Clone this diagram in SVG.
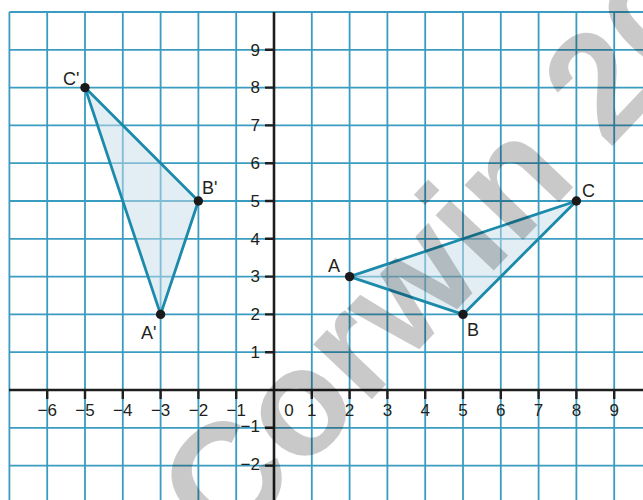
<svg xmlns="http://www.w3.org/2000/svg" width="643" height="500" viewBox="0 0 643 500">
<style>
.grid line{stroke:#3a9cc0;stroke-width:1.8}
.axis{stroke:#1e1e1e;stroke-width:2.6}
.tick{stroke:#1e1e1e;stroke-width:2.4}
.num{font-family:"Liberation Sans",Arial,sans-serif;font-size:17px;fill:#231f20}
.xl{text-anchor:middle}
.yl{text-anchor:end}
.pt{font-family:"Liberation Sans",Arial,sans-serif;font-size:18px;fill:#231f20}
.tri{fill:#c6dde9;fill-opacity:0.5;stroke:#1b8aab;stroke-width:2.8;stroke-linejoin:round}
.dot{fill:#1a1a1a}
.wm{font-family:"Liberation Sans",Arial,sans-serif;font-weight:bold;font-size:152px;fill:#000;fill-opacity:0.21}
</style>
<rect width="643" height="500" fill="#fff"/>
<g id="grid" class="grid">
<line x1="9.4" y1="12" x2="9.4" y2="500"/>
<line x1="47.2" y1="12" x2="47.2" y2="500"/>
<line x1="85" y1="12" x2="85" y2="500"/>
<line x1="122.8" y1="12" x2="122.8" y2="500"/>
<line x1="160.6" y1="12" x2="160.6" y2="500"/>
<line x1="198.4" y1="12" x2="198.4" y2="500"/>
<line x1="236.2" y1="12" x2="236.2" y2="500"/>
<line x1="311.8" y1="12" x2="311.8" y2="500"/>
<line x1="349.6" y1="12" x2="349.6" y2="500"/>
<line x1="387.4" y1="12" x2="387.4" y2="500"/>
<line x1="425.2" y1="12" x2="425.2" y2="500"/>
<line x1="463" y1="12" x2="463" y2="500"/>
<line x1="500.8" y1="12" x2="500.8" y2="500"/>
<line x1="538.6" y1="12" x2="538.6" y2="500"/>
<line x1="576.4" y1="12" x2="576.4" y2="500"/>
<line x1="614.2" y1="12" x2="614.2" y2="500"/>
<line x1="9.4" y1="12" x2="643" y2="12"/>
<line x1="9.4" y1="49.8" x2="643" y2="49.8"/>
<line x1="9.4" y1="87.6" x2="643" y2="87.6"/>
<line x1="9.4" y1="125.4" x2="643" y2="125.4"/>
<line x1="9.4" y1="163.2" x2="643" y2="163.2"/>
<line x1="9.4" y1="201" x2="643" y2="201"/>
<line x1="9.4" y1="238.8" x2="643" y2="238.8"/>
<line x1="9.4" y1="276.6" x2="643" y2="276.6"/>
<line x1="9.4" y1="314.4" x2="643" y2="314.4"/>
<line x1="9.4" y1="352.2" x2="643" y2="352.2"/>
<line x1="9.4" y1="427.8" x2="643" y2="427.8"/>
<line x1="9.4" y1="465.6" x2="643" y2="465.6"/>
</g>
<g id="axes">
<line class="axis" x1="9" y1="390" x2="643" y2="390"/>
<line class="axis" x1="274" y1="12" x2="274" y2="500"/>
<path class="tick" d="M47.2 390v9M85 390v9M122.8 390v9M160.6 390v9M198.4 390v9M236.2 390v9M311.8 390v9M349.6 390v9M387.4 390v9M425.2 390v9M463 390v9M500.8 390v9M538.6 390v9M576.4 390v9M614.2 390v9"/>
<path class="tick" d="M265 49.8h9M265 87.6h9M265 125.4h9M265 163.2h9M265 201h9M265 238.8h9M265 276.6h9M265 314.4h9M265 352.2h9M265 427.8h9M265 465.6h9"/>
</g>
<g id="x-labels" class="num xl">
<text x="47.2" y="416">−6</text>
<text x="85" y="416">−5</text>
<text x="122.8" y="416">−4</text>
<text x="160.6" y="416">−3</text>
<text x="198.4" y="416">−2</text>
<text x="236.2" y="416">−1</text>
<text x="289" y="416">0</text>
<text x="311.8" y="416">1</text>
<text x="349.6" y="416">2</text>
<text x="387.4" y="416">3</text>
<text x="425.2" y="416">4</text>
<text x="463" y="416">5</text>
<text x="500.8" y="416">6</text>
<text x="538.6" y="416">7</text>
<text x="576.4" y="416">8</text>
<text x="614.2" y="416">9</text>
</g>
<g id="y-labels" class="num yl">
<text x="260" y="55.5">9</text>
<text x="260" y="93.3">8</text>
<text x="260" y="131.1">7</text>
<text x="260" y="168.9">6</text>
<text x="260" y="206.7">5</text>
<text x="260" y="244.5">4</text>
<text x="260" y="282.3">3</text>
<text x="260" y="320.1">2</text>
<text x="260" y="357.9">1</text>
<text x="260" y="432">−1</text>
<text x="260" y="470">−2</text>
</g>
<g id="triangle-ABC">
<polygon class="tri" points="349.6,276.6 463,314.4 576.4,201"/>
<circle class="dot" cx="349.6" cy="276.6" r="4.7"/>
<circle class="dot" cx="463" cy="314.4" r="4.7"/>
<circle class="dot" cx="576.4" cy="201" r="4.7"/>
<text class="pt" x="328" y="272">A</text>
<text class="pt" x="467" y="336">B</text>
<text class="pt" x="582" y="197">C</text>
</g>
<g id="triangle-A1B1C1">
<polygon class="tri" points="160.6,314.4 198.4,201 85,87.6"/>
<circle class="dot" cx="160.6" cy="314.4" r="4.7"/>
<circle class="dot" cx="198.4" cy="201" r="4.7"/>
<circle class="dot" cx="85" cy="87.6" r="4.7"/>
<text class="pt" x="141" y="339">A'</text>
<text class="pt" x="202" y="194">B'</text>
<text class="pt" x="63" y="85">C'</text>
</g>
<g id="watermark">
<text class="wm" transform="translate(225,554) rotate(-46.5)">Corwin 20</text>
</g>
</svg>
